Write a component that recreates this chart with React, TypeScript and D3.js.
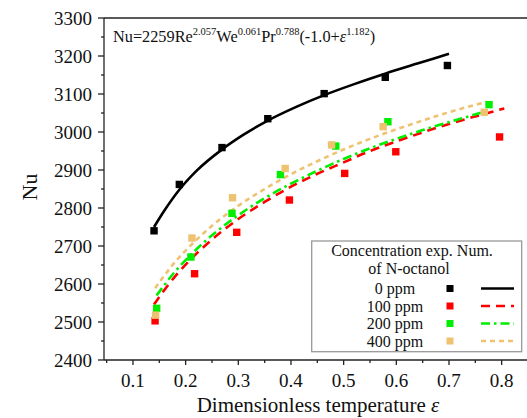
import React from "react";
import * as d3 from "d3";

const eps0 = [0.14, 0.188, 0.269, 0.356, 0.463, 0.579, 0.697];
const nu0 = [2740, 2862, 2959, 3035, 3101, 3144, 3175];
const eps100 = [0.142, 0.217, 0.297, 0.397, 0.502, 0.599, 0.796];
const nu100 = [2503, 2627, 2736, 2821, 2891, 2948, 2987];
const eps200 = [0.145, 0.21, 0.288, 0.38, 0.485, 0.584, 0.776];
const nu200 = [2536, 2671, 2786, 2888, 2963, 3027, 3072];
const eps400 = [0.143, 0.212, 0.289, 0.389, 0.477, 0.575, 0.767];
const nu400 = [2518, 2721, 2827, 2904, 2966, 3014, 3052];

// ---- Numerical (fitted) curves ----
const curveEps0 = [0.14, 0.16, 0.188, 0.22, 0.27, 0.31, 0.356, 0.41, 0.463, 0.52, 0.58, 0.64, 0.7];
const curveNu0 = [2750, 2794, 2848, 2897, 2955, 2993, 3030, 3066, 3097, 3126, 3154, 3180, 3206];
const curveEps100 = [0.14, 0.16, 0.18, 0.2, 0.25, 0.3, 0.35, 0.4, 0.45, 0.5, 0.55, 0.6, 0.65, 0.7, 0.75, 0.805];
const curveNu100 = [2546, 2585, 2620, 2651, 2717, 2771, 2816, 2856, 2890, 2920, 2950, 2975, 2999, 3021, 3041, 3062];
const curveEps200 = [0.145, 0.16, 0.18, 0.2, 0.25, 0.3, 0.35, 0.4, 0.45, 0.5, 0.55, 0.6, 0.65, 0.7, 0.78];
const curveNu200 = [2570, 2598, 2633, 2663, 2728, 2781, 2826, 2864, 2898, 2929, 2957, 2982, 3005, 3026, 3058];
const curveEps400 = [0.142, 0.16, 0.18, 0.2, 0.25, 0.3, 0.35, 0.4, 0.45, 0.5, 0.55, 0.6, 0.65, 0.7, 0.77];
const curveNu400 = [2589, 2623, 2658, 2688, 2753, 2806, 2850, 2889, 2923, 2954, 2982, 3007, 3030, 3052, 3079];

// ---- Ticks / labels ----
const yTicks = [2400, 2500, 2600, 2700, 2800, 2900, 3000, 3100, 3200, 3300];
const yMinor = [2450, 2550, 2650, 2750, 2850, 2950, 3050, 3150, 3250];
const xTicks = [0.1, 0.2, 0.3, 0.4, 0.5, 0.6, 0.7, 0.8];
const xMinor = [0.05, 0.15, 0.25, 0.35, 0.45, 0.55, 0.65, 0.75, 0.85];
const seriesLabels = ["0 ppm", "100 ppm", "200 ppm", "400 ppm"];

const FONT = "Liberation Serif";
const tStyle = { fontFamily: FONT } as React.CSSProperties;

export default function App() {
  const W = 527;
  const H = 418;
  const x = d3.scaleLinear().domain([0.045, 0.85]).range([104, 528]);
  const y = d3.scaleLinear().domain([2400, 3300]).range([360, 18]);

  const line = d3
    .line<[number, number]>()
    .x((d) => x(d[0]))
    .y((d) => y(d[1]))
    .curve(d3.curveMonotoneX);

  const series = [
    { eps: eps0, nu: nu0, ce: curveEps0, cn: curveNu0, color: "#000000", dash: "none" },
    { eps: eps100, nu: nu100, ce: curveEps100, cn: curveNu100, color: "#ff0000", dash: "9,6" },
    { eps: eps200, nu: nu200, ce: curveEps200, cn: curveNu200, color: "#00ee00", dash: "9,4,2.5,4" },
    { eps: eps400, nu: nu400, ce: curveEps400, cn: curveNu400, color: "#efc272", dash: "5,4" },
  ];

  const sq = 7.4;
  const left = x.range()[0];
  const bottom = y.range()[0];
  const top = y.range()[1];

  const legendRowsY = [294, 311.5, 329, 346.5];

  return (
    <svg
      width={W}
      height={H}
      style={{ position: "absolute", left: 0, top: 0, background: "#fff", fontFamily: FONT }}
    >
      {/* curves */}
      {series.map((s, i) => (
        <path
          key={"c" + i}
          d={line(s.ce.map((e, j) => [e, s.cn[j]] as [number, number])) || ""}
          fill="none"
          stroke={s.color}
          strokeWidth={2.6}
          strokeDasharray={s.dash}
        />
      ))}
      {/* points */}
      {series.map((s, i) => (
        <g key={"p" + i}>
          {s.eps.map((e, j) => (
            <rect
              key={j}
              x={x(e) - sq / 2}
              y={y(s.nu[j]) - sq / 2}
              width={sq}
              height={sq}
              fill={s.color}
            />
          ))}
        </g>
      ))}

      {/* axes frame */}
      <line x1={left} x2={W} y1={top} y2={top} stroke="#222" strokeWidth={1.3} />
      <line x1={left} x2={left} y1={top} y2={bottom} stroke="#222" strokeWidth={1.3} />
      <line x1={left} x2={W} y1={bottom} y2={bottom} stroke="#222" strokeWidth={1.3} />

      {/* y ticks */}
      {yTicks.map((t) => (
        <g key={"yt" + t}>
          <line x1={left - 6} x2={left} y1={y(t)} y2={y(t)} stroke="#222" strokeWidth={1.3} />
          <text x={92} y={y(t)} dy="0.35em" textAnchor="end" fontSize={19} fill="#111" style={tStyle}>
            {t}
          </text>
        </g>
      ))}
      {yMinor.map((t) => (
        <line key={"ym" + t} x1={left - 3} x2={left} y1={y(t)} y2={y(t)} stroke="#222" strokeWidth={1.3} />
      ))}

      {/* x ticks */}
      {xTicks.map((t) => (
        <g key={"xt" + t}>
          <line x1={x(t)} x2={x(t)} y1={bottom} y2={bottom + 5} stroke="#222" strokeWidth={1.3} />
          <text x={x(t)} y={387} textAnchor="middle" fontSize={19} fill="#111" style={tStyle}>
            {t.toFixed(1)}
          </text>
        </g>
      ))}
      {xMinor.map((t) => (
        <line key={"xm" + t} x1={x(t)} x2={x(t)} y1={bottom} y2={bottom + 3} stroke="#222" strokeWidth={1.3} />
      ))}

      {/* axis titles */}
      <text x={318} y={412} textAnchor="middle" fontSize={21} fill="#111" style={tStyle}>
        Dimensionless temperature <tspan fontStyle="italic">ε</tspan>
      </text>
      <text
        transform="translate(37,187) rotate(-90)"
        textAnchor="middle"
        fontSize={22}
        fill="#111"
        style={tStyle}
      >
        Nu
      </text>

      {/* formula */}
      <text x={113} y={42} fontSize={16.3} fill="#111" style={tStyle}>
        Nu=2259Re
        <tspan fontSize={10.5} dy={-7}>2.057</tspan>
        <tspan dy={7}>We</tspan>
        <tspan fontSize={10.5} dy={-7}>0.061</tspan>
        <tspan dy={7}>Pr</tspan>
        <tspan fontSize={10.5} dy={-7}>0.788</tspan>
        <tspan dy={7}>(-1.0+</tspan>
        <tspan fontStyle="italic">ε</tspan>
        <tspan fontSize={10.5} dy={-7}>1.182</tspan>
        <tspan dy={7}>)</tspan>
      </text>

      {/* legend */}
      <rect x={311.7} y={241} width={210} height={110.7} fill="#fff" stroke="#999" strokeWidth={1.3} />
      <text x={412} y={255.7} textAnchor="middle" fontSize={16} fill="#111" style={tStyle}>
        Concentration exp. Num.
      </text>
      <text x={409} y={274.3} textAnchor="middle" fontSize={16} fill="#111" style={tStyle}>
        of N-octanol
      </text>
      {series.map((s, i) => (
        <g key={"lg" + i}>
          <text x={395} y={legendRowsY[i]} textAnchor="middle" fontSize={16} fill="#111" style={tStyle}>
            {seriesLabels[i]}
          </text>
          <rect x={450 - 3.5} y={legendRowsY[i] - 9} width={7} height={7} fill={s.color} />
          <line
            x1={481}
            x2={514}
            y1={legendRowsY[i] - 5.5}
            y2={legendRowsY[i] - 5.5}
            stroke={s.color}
            strokeWidth={2.6}
            strokeDasharray={s.dash}
          />
        </g>
      ))}
    </svg>
  );
}
